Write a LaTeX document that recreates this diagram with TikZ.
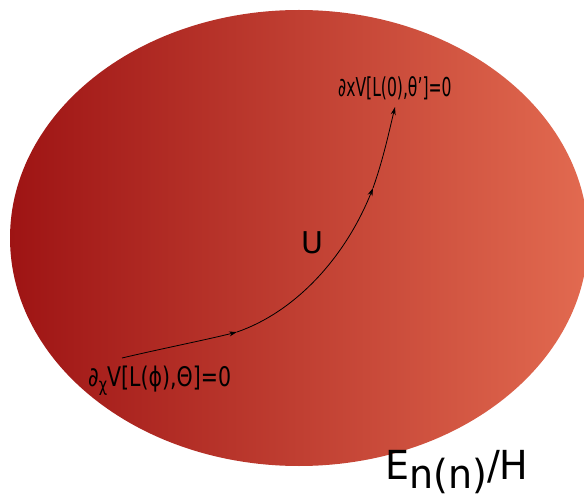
\documentclass[tikz,border=0pt]{standalone}
\usepackage{fontspec}
\setmainfont{DejaVu Sans}
\usetikzlibrary{arrows.meta}
\definecolor{redL}{RGB}{158,20,20}
\definecolor{redR}{RGB}{226,106,80}
\tikzset{
  flow/.style={draw=black, line width=0.8pt, -{Stealth[length=8pt,width=5pt]}},
  lab/.style={inner sep=0pt, text=black}
}
\begin{document}
\begin{tikzpicture}[x=1pt,y=-1pt]
\useasboundingbox (0,0) rectangle (584,497);
\fill[white] (0,0) rectangle (584,497);
\shade[left color=redL, right color=redR] (299,238) ellipse [x radius=289pt, y radius=228pt];
\coordinate (p0) at (122,358);
\coordinate (p1) at (237,332);
\coordinate (p2) at (373,188);
\coordinate (p3) at (395,107);
\draw[flow] (p0) .. controls (160,349) and (210,339) .. (p1);
\draw[flow] (p1) .. controls (295,312) and (345,258) .. (p2);
\draw[flow] (p2) .. controls (383,160) and (389,132) .. (p3);
\node[lab, anchor=west] (top) at (338,88) {\scalebox{0.6}[1]{\fontsize{26}{26}\selectfont ∂xV[L(0),θ\char"0027]=0}};
\node[lab, anchor=west] (bot) at (88,381) {\scalebox{0.76}[1]{\fontsize{27}{27}\selectfont ∂\raisebox{-5pt}{\fontsize{19}{19}\selectfont χ}V[L(ϕ),Θ]=0}};
\node[lab] (u) at (312,243) {\fontsize{30}{30}\selectfont U};
\node[lab, anchor=west] (enh) at (385,472) {\scalebox{0.95}[1]{\fontsize{40}{40}\selectfont E\raisebox{-9pt}{n(n)}/H}};
\end{tikzpicture}
\end{document}
